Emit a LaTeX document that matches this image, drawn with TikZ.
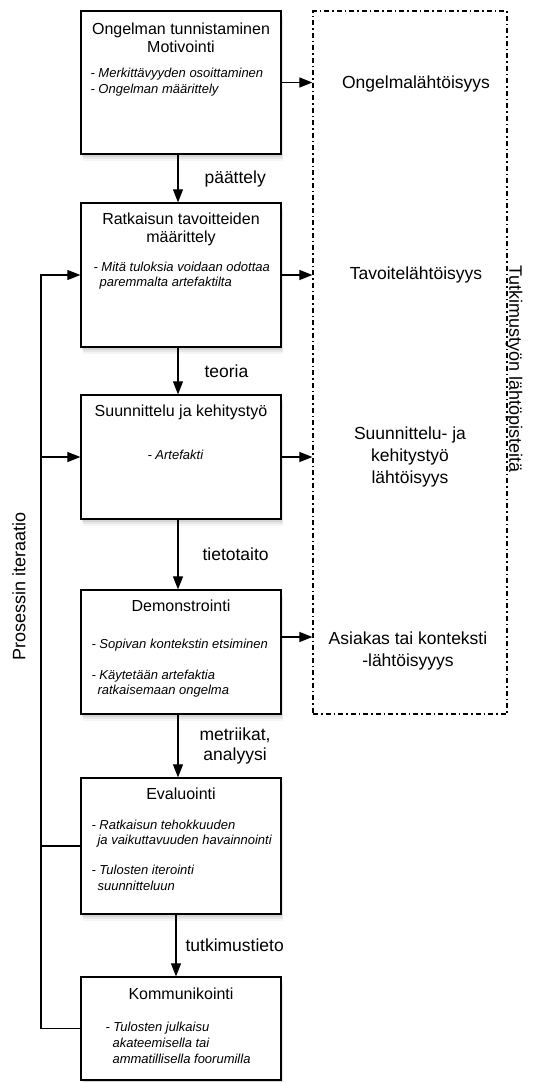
\documentclass[tikz,border=0pt]{standalone}
\usepackage{fontspec}
\setmainfont{Liberation Sans}
\usetikzlibrary{arrows.meta, positioning, shadows}

\tikzset{
  stepbox/.style={draw, line width=1.3pt, fill=white, minimum width=200pt, inner sep=0pt,
    drop shadow={opacity=0.08, shadow xshift=2pt, shadow yshift=-7pt},
    drop shadow={opacity=0.12, shadow xshift=1.5pt, shadow yshift=-5pt},
    drop shadow={opacity=0.18, shadow xshift=1pt, shadow yshift=-3pt}},
  steptitle/.style={anchor=north, align=center, inner sep=0pt, font=\fontsize{16}{18}\selectfont},
  stepnote/.style={anchor=north west, align=left, inner sep=0pt, font=\fontsize{13}{15.5}\selectfont\itshape},
  origin/.style={align=center, inner sep=0pt, font=\fontsize{17.5}{22}\selectfont},
  elabel/.style={inner sep=0pt, align=center, font=\fontsize{17.5}{20}\selectfont},
  sidetext/.style={inner sep=0pt, font=\fontsize{18}{20}\selectfont},
  flow/.style={-{Triangle[length=13pt,width=10pt]}, line width=1.1pt},
}

\begin{document}
\begin{tikzpicture}[x=1pt, y=-1pt]
\useasboundingbox (0,0) rectangle (539,1082);

\node[draw, line width=1.2pt, dash pattern=on 5pt off 3pt on 1.5pt off 3pt,
  minimum width=194pt, minimum height=703pt, inner sep=0pt] (origins) at (410,362.5) {};

\node[stepbox, minimum height=143pt] (ongelma) at (181,82.5) {};
\node[stepbox, minimum height=144pt] (tavoite) at (181,275) {};
\node[stepbox, minimum height=124pt] (suunn) at (181,457) {};
\node[stepbox, minimum height=124pt] (demo) at (181,652) {};
\node[stepbox, minimum height=136pt] (eval) at (181,846) {};
\node[stepbox, minimum height=103pt] (komm) at (181,1028.5) {};

\node[steptitle] (ongelma-t) at ([yshift=-12pt]ongelma.north) {Ongelman tunnistaminen\\Motivointi};
\node[stepnote] (ongelma-n) at ([xshift=10pt, yshift=-57.5pt]ongelma.north west)
  {- Merkittävyyden osoittaminen\\[0.5pt]- Ongelman määrittely};
\node[steptitle] (tavoite-t) at ([yshift=-10.3pt]tavoite.north) {Ratkaisun tavoitteiden\\määrittely};
\node[stepnote] (tavoite-n) at ([xshift=13pt, yshift=-59.5pt]tavoite.north west)
  {- Mitä tuloksia voidaan odottaa\\\hspace*{6pt}paremmalta artefaktilta};
\node[steptitle] (suunn-t) at ([yshift=-10.3pt]suunn.north) {Suunnittelu ja kehitystyö};
\node[stepnote] (suunn-n) at ([xshift=67pt, yshift=-55.5pt]suunn.north west) {- Artefakti};
\node[steptitle] (demo-t) at ([yshift=-10.3pt]demo.north) {Demonstrointi};
\node[stepnote] (demo-n) at ([xshift=11pt, yshift=-49.5pt]demo.north west)
  {- Sopivan kontekstin etsiminen\\[15.5pt]- Käytetään artefaktia\\\hspace*{6pt}ratkaisemaan ongelma};
\node[steptitle] (eval-t) at ([yshift=-10.3pt]eval.north) {Evaluointi};
\node[stepnote] (eval-n) at ([xshift=11pt, yshift=-42.5pt]eval.north west)
  {- Ratkaisun tehokkuuden\\\hspace*{6pt}ja vaikuttavuuden havainnointi\\[14.5pt]- Tulosten iterointi\\\hspace*{6pt}suunnitteluun};
\node[steptitle] (komm-t) at ([yshift=-11.3pt]komm.north) {Kommunikointi};
\node[stepnote] (komm-n) at ([xshift=25pt, yshift=-45.5pt]komm.north west)
  {- Tulosten julkaisu\\[1pt]\hspace*{7pt}akateemisella tai\\\hspace*{7pt}ammatillisella foorumilla};

\node[origin] (o-ongelma) at (416,84) {Ongelmalähtöisyys};
\node[origin] (o-tavoite) at (416,275) {Tavoitelähtöisyys};
\node[origin] (o-suunn) at (410,457) {Suunnittelu- ja\\kehitystyö\\lähtöisyys};
\node[origin] (o-asiakas) at (408,651) {Asiakas tai konteksti\\-lähtöisyyys};

\node[sidetext, rotate=90] (iter) at (19,586) {Prosessin iteraatio};
\node[sidetext, rotate=-90] (lahto) at (514,369) {Tutkimustyön lähtöpisteitä};

\draw[flow] ([xshift=-3pt]ongelma.south) -- node[elabel, right=26pt] (l-paattely) {päättely} ([xshift=-3pt]tavoite.north);
\draw[flow] ([xshift=-3pt]tavoite.south) -- node[elabel, right=26pt] (l-teoria) {teoria} ([xshift=-3pt]suunn.north);
\draw[flow] ([xshift=-3pt]suunn.south) -- node[elabel, right=24pt] (l-tieto) {tietotaito} ([xshift=-3pt]demo.north);
\draw[flow] ([xshift=-3pt]demo.south) -- node[elabel, right=21pt] (l-metr) {metriikat,\\analyysi} ([xshift=-3pt]eval.north);
\draw[flow] ([xshift=-5pt]eval.south) -- node[elabel, right=9pt] (l-tutk) {tutkimustieto} ([xshift=-5pt]komm.north);

\draw[flow] (ongelma.east) -- (ongelma.east -| origins.west);
\draw[flow] (tavoite.east) -- (tavoite.east -| origins.west);
\draw[flow] (suunn.east) -- (suunn.east -| origins.west);
\draw[flow] ([yshift=15pt]demo.east) -- ([yshift=15pt]demo.east -| origins.west);

\coordinate (loop) at (41,0);
\draw[flow] (komm.west) -| (loop |- tavoite.west) -- (tavoite.west);
\draw[flow] (loop |- suunn.west) -- (suunn.west);
\draw[line width=1.1pt] (eval.west) -- (loop |- eval.west);
\end{tikzpicture}
\end{document}
